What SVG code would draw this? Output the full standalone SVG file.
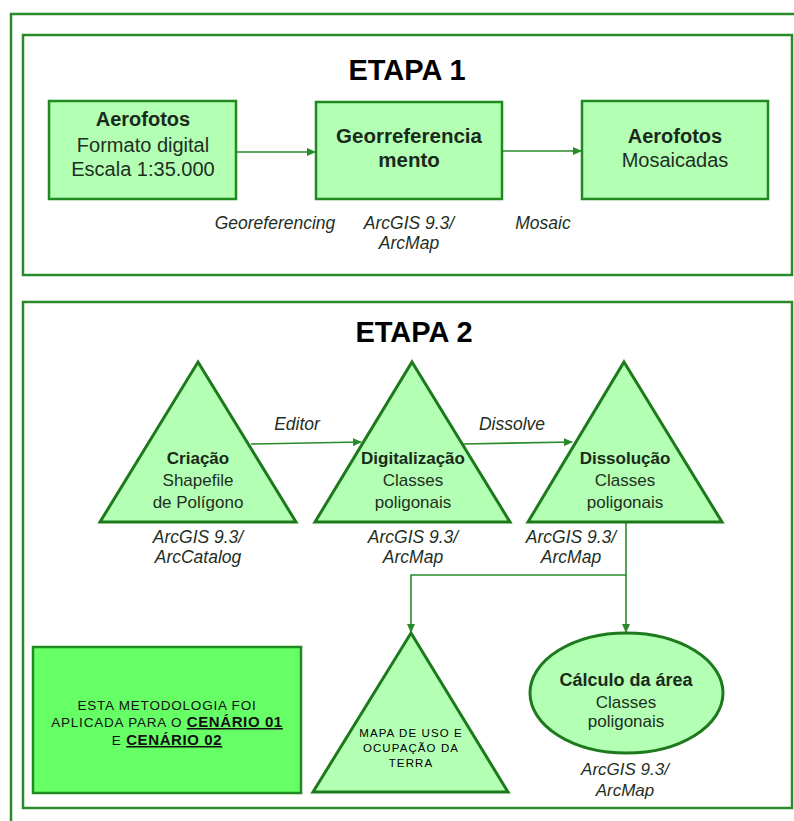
<svg xmlns="http://www.w3.org/2000/svg" width="794" height="821" viewBox="0 0 794 821">
<defs>
<marker id="ah" markerWidth="9" markerHeight="8" refX="8" refY="4" orient="auto" markerUnits="userSpaceOnUse">
<path d="M0,0 L9,4 L0,8 Z" fill="#2a8a2a"/>
</marker>
<style>
.frame{fill:none;stroke:#2a8a2a;stroke-width:2.5}
.box{fill:#b3ffb3;stroke:#1f8a1f;stroke-width:2.5}
.tri{fill:#b3ffb3;stroke:#1c7a1c;stroke-width:3;stroke-linejoin:miter}
.note{fill:#66ff66;stroke:#1f8a1f;stroke-width:2.5}
.con{fill:none;stroke:#2a8a2a;stroke-width:1.6}
.title{font-family:"Liberation Sans",Arial,sans-serif;font-weight:bold;font-size:29px;fill:#000;text-anchor:middle}
.b{font-family:"Liberation Sans",Arial,sans-serif;font-weight:bold;font-size:20px;fill:#1a2a1a;text-anchor:middle}
.r{font-family:"Liberation Sans",Arial,sans-serif;font-size:20px;fill:#1f2f1f;text-anchor:middle}
.bt{font-family:"Liberation Sans",Arial,sans-serif;font-weight:bold;font-size:17px;fill:#1a2a1a;text-anchor:middle}
.rt{font-family:"Liberation Sans",Arial,sans-serif;font-size:17px;fill:#1f2f1f;text-anchor:middle}
.lab{font-family:"Liberation Sans",Arial,sans-serif;font-style:italic;font-size:17.5px;fill:#1f2f1f;text-anchor:middle}
.sm{font-family:"Liberation Sans",Arial,sans-serif;font-size:11.5px;letter-spacing:1.1px;fill:#000;text-anchor:middle}
.nt{font-family:"Liberation Sans",Arial,sans-serif;font-size:13.5px;letter-spacing:0.8px;fill:#111;text-anchor:middle}
.nb{font-weight:bold;font-size:15px;letter-spacing:0.6px;text-decoration:underline}
</style>
</defs>
<rect width="794" height="821" fill="#fff"/>
<rect class="frame" x="11" y="14" width="800" height="830"/>
<rect class="frame" x="23" y="35" width="769" height="240"/>
<rect class="frame" x="23" y="302" width="769" height="506"/>
<text class="title" x="407" y="80">ETAPA 1</text>
<text class="title" x="414" y="342">ETAPA 2</text>

<g id="connectors">
<line class="con" x1="236" y1="152" x2="315" y2="152" marker-end="url(#ah)"/>
<line class="con" x1="502" y1="151" x2="581" y2="151" marker-end="url(#ah)"/>
<line class="con" x1="251" y1="444" x2="361" y2="442" marker-end="url(#ah)"/>
<line class="con" x1="463" y1="444" x2="572" y2="442" marker-end="url(#ah)"/>
<polyline class="con" points="626,522 626,575 411,575 411,632" marker-end="url(#ah)"/>
<line class="con" x1="626" y1="575" x2="626" y2="632" marker-end="url(#ah)"/>
<text class="lab" x="275" y="229">Georeferencing</text>
<text class="lab" x="543" y="229">Mosaic</text>
<text class="lab" x="297" y="430">Editor</text>
<text class="lab" x="512" y="430">Dissolve</text>
</g>

<g id="aerofotos1">
<rect class="box" x="49" y="101" width="187" height="98"/>
<text class="b" x="143" y="126">Aerofotos</text>
<text class="r" x="143" y="152">Formato digital</text>
<text class="r" x="143" y="176">Escala 1:35.000</text>
</g>
<g id="georref">
<rect class="box" x="316" y="102" width="186" height="97"/>
<text class="b" x="409" y="143" style="font-size:20.5px">Georreferencia</text>
<text class="b" x="409" y="167" style="font-size:20.5px">mento</text>
<text class="lab" x="409" y="229">ArcGIS 9.3/</text>
<text class="lab" x="409" y="249">ArcMap</text>
</g>
<g id="aerofotos2">
<rect class="box" x="582" y="101" width="186" height="98"/>
<text class="b" x="675" y="143">Aerofotos</text>
<text class="r" x="675" y="167">Mosaicadas</text>
</g>

<g id="criacao">
<polygon class="tri" points="198,362 296,522 100,522"/>
<text class="bt" x="198" y="464">Criação</text>
<text class="rt" x="198" y="486">Shapefile</text>
<text class="rt" x="198" y="508">de Polígono</text>
<text class="lab" x="198" y="543">ArcGIS 9.3/</text>
<text class="lab" x="198" y="563">ArcCatalog</text>
</g>
<g id="digitalizacao">
<polygon class="tri" points="412,362 510,522 315,522"/>
<text class="bt" x="413" y="464">Digitalização</text>
<text class="rt" x="413" y="486">Classes</text>
<text class="rt" x="413" y="508">poligonais</text>
<text class="lab" x="413" y="543">ArcGIS 9.3/</text>
<text class="lab" x="413" y="563">ArcMap</text>
</g>
<g id="dissolucao">
<polygon class="tri" points="624,362 722,522 528,522"/>
<text class="bt" x="625" y="464">Dissolução</text>
<text class="rt" x="625" y="486">Classes</text>
<text class="rt" x="625" y="508">poligonais</text>
<text class="lab" x="571" y="543">ArcGIS 9.3/</text>
<text class="lab" x="571" y="563">ArcMap</text>
</g>
<g id="mapa">
<polygon class="tri" points="411,633 508,792 313,792"/>
<text class="sm" x="411" y="737">MAPA DE USO E</text>
<text class="sm" x="411" y="752">OCUPAÇÃO DA</text>
<text class="sm" x="411" y="767">TERRA</text>
</g>
<g id="calculo">
<ellipse cx="626.5" cy="693" rx="96.5" ry="60" fill="#b3ffb3" stroke="#1c7a1c" stroke-width="3"/>
<text class="bt" x="626" y="686" style="font-size:18px">Cálculo da área</text>
<text class="rt" x="626" y="708">Classes</text>
<text class="rt" x="626" y="727">poligonais</text>
<text class="lab" x="625" y="775" style="font-size:17px">ArcGIS 9.3/</text>
<text class="lab" x="625" y="796" style="font-size:17px">ArcMap</text>
</g>
<g id="nota">
<rect class="note" x="33" y="647" width="268" height="146"/>
<text class="nt" x="167" y="710">ESTA METODOLOGIA FOI</text>
<text class="nt" x="167" y="727">APLICADA PARA O <tspan class="nb">CENÁRIO 01</tspan></text>
<text class="nt" x="167" y="745">E <tspan class="nb">CENÁRIO 02</tspan></text>
</g>
</svg>
